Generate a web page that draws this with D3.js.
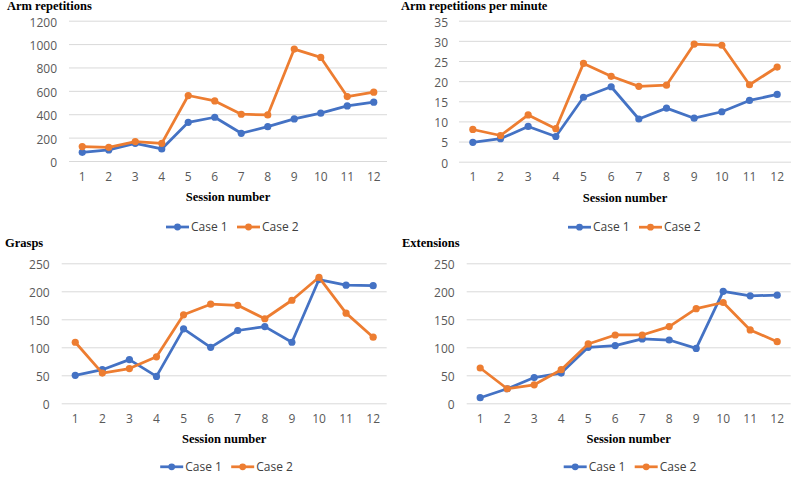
<!DOCTYPE html>
<html>
<head>
<meta charset="utf-8">
<script src="https://cdn.jsdelivr.net/npm/d3@7"></script>
<style>
  body { margin: 0; background: #fff; }
</style>
</head>
<body>
<div id="chart"></div>
<script>
const sessions = [1, 2, 3, 4, 5, 6, 7, 8, 9, 10, 11, 12];
const seriesNames = ["Case 1", "Case 2"];

const armReps1 = [74, 95, 151, 103, 331, 374, 237, 294, 360, 409, 471, 503];
const armReps2 = [123, 117, 166, 151, 560, 514, 400, 394, 957, 886, 551, 589];
const armRepsTicks = [0, 200, 400, 600, 800, 1000, 1200];

const perMin1 = [4.8, 5.7, 8.75, 6.25, 16, 18.6, 10.6, 13.3, 10.8, 12.4, 15.2, 16.7];
const perMin2 = [8, 6.5, 11.6, 8.2, 24.4, 21.2, 18.7, 19, 29.2, 28.9, 19.1, 23.5];
const perMinTicks = [0, 5, 10, 15, 20, 25, 30, 35];

const grasps1 = [50, 60, 78, 48, 133, 100, 130, 137, 109, 221, 211, 210];
const grasps2 = [109, 54, 62, 83, 158, 177, 175, 151, 184, 225, 161, 118];
const graspTicks = [0, 50, 100, 150, 200, 250];

const ext1 = [10, 26, 46, 54, 100, 103, 115, 113, 98, 200, 192, 193];
const ext2 = [63, 26, 33, 60, 106, 122, 122, 137, 169, 180, 131, 110];
const extTicks = [0, 50, 100, 150, 200, 250];

const colors = ["#4472C4", "#ED7D31"];

const svg = d3.select("#chart").append("svg")
  .attr("width", 800)
  .attr("height", 485);

const panel = function (cfg) {
  const x = d3.scaleBand()
    .domain(sessions)
    .range([cfg.x0, cfg.x1]);

  const y = d3.scaleLinear()
    .domain([0, d3.max(cfg.ticks)])
    .range([cfg.yBottom, cfg.yTop]);

  const g = svg.append("g");

  g.append("text")
    .attr("x", cfg.titleX)
    .attr("y", cfg.titleY)
    .attr("font-family", "Liberation Serif, serif")
    .attr("font-weight", "bold")
    .attr("font-size", 12.5)
    .attr("fill", "#000")
    .text(cfg.title);

  // gridlines + y labels
  const yAxis = g.append("g")
    .attr("transform", `translate(${cfg.x0},0)`)
    .call(d3.axisLeft(y)
      .tickValues(cfg.ticks)
      .tickFormat(d3.format("d"))
      .tickSize(-(cfg.x1 - cfg.x0))
      .tickPadding(cfg.yPad));
  yAxis.select(".domain").remove();
  yAxis.selectAll("line").attr("stroke", "#d9d9d9").attr("stroke-width", 1);
  yAxis.selectAll("text")
    .attr("dy", "0.45em")
    .attr("font-family", "Open Sans, sans-serif")
    .attr("font-size", 12)
    .attr("fill", "#595959");

  // x labels
  const xAxis = g.append("g")
    .attr("transform", `translate(0,${cfg.yBottom})`)
    .call(d3.axisBottom(x).tickSize(0).tickPadding(11));
  xAxis.select(".domain").remove();
  xAxis.selectAll("text")
    .attr("font-family", "Open Sans, sans-serif")
    .attr("font-size", 12)
    .attr("fill", "#595959");

  const cx = (cfg.x0 + cfg.x1) / 2;

  g.append("text")
    .attr("x", cx)
    .attr("y", cfg.yBottom + 40)
    .attr("text-anchor", "middle")
    .attr("font-family", "Liberation Serif, serif")
    .attr("font-weight", "bold")
    .attr("font-size", 12.5)
    .attr("fill", "#000")
    .text("Session number");

  const line = d3.line()
    .x((d, i) => x(sessions[i]) + x.bandwidth() / 2)
    .y(d => y(d));

  cfg.series.forEach((vals, k) => {
    g.append("path")
      .datum(vals)
      .attr("fill", "none")
      .attr("stroke", colors[k])
      .attr("stroke-width", 2.75)
      .attr("stroke-linejoin", "round")
      .attr("d", line);

    g.append("g")
      .selectAll("circle")
      .data(vals)
      .join("circle")
      .attr("cx", (d, i) => x(sessions[i]) + x.bandwidth() / 2)
      .attr("cy", d => y(d))
      .attr("r", 3.6)
      .attr("fill", colors[k]);
  });

  // legend
  const ly = cfg.yBottom + cfg.legendDy;
  const lx = cx - 62 + cfg.legendShift;
  const leg = g.append("g")
    .selectAll("g")
    .data(seriesNames)
    .join("g")
    .attr("transform", (d, i) => `translate(${lx + i * 71},${ly})`);

  leg.append("line")
    .attr("x1", 0).attr("x2", 23)
    .attr("stroke", (d, i) => colors[i])
    .attr("stroke-width", 2.75);
  leg.append("circle")
    .attr("cx", 11.5)
    .attr("r", 3.4)
    .attr("fill", (d, i) => colors[i]);
  leg.append("text")
    .attr("x", 25)
    .attr("dy", "0.35em")
    .attr("font-family", "Open Sans, sans-serif")
    .attr("font-size", 12)
    .attr("fill", "#404040")
    .text(d => d);
};

panel({
  title: "Arm repetitions", titleX: 7, titleY: 10,
  x0: 69, x1: 387, yTop: 20.7, yBottom: 161, yPad: 12,
  ticks: armRepsTicks, series: [armReps1, armReps2],
  legendDy: 66, legendShift: 0
});

panel({
  title: "Arm repetitions per minute", titleX: 401, titleY: 10,
  x0: 459, x1: 791, yTop: 20.7, yBottom: 161.7, yPad: 11,
  ticks: perMinTicks, series: [perMin1, perMin2],
  legendDy: 65.5, legendShift: 5
});

panel({
  title: "Grasps", titleX: 5, titleY: 247,
  x0: 61.7, x1: 386.7, yTop: 263.3, yBottom: 403.3, yPad: 12,
  ticks: graspTicks, series: [grasps1, grasps2],
  legendDy: 63.5, legendShift: -2
});

panel({
  title: "Extensions", titleX: 402, titleY: 247,
  x0: 466.7, x1: 790.7, yTop: 263.3, yBottom: 403.3, yPad: 12,
  ticks: extTicks, series: [ext1, ext2],
  legendDy: 63.5, legendShift: -3
});
</script>
</body>
</html>
